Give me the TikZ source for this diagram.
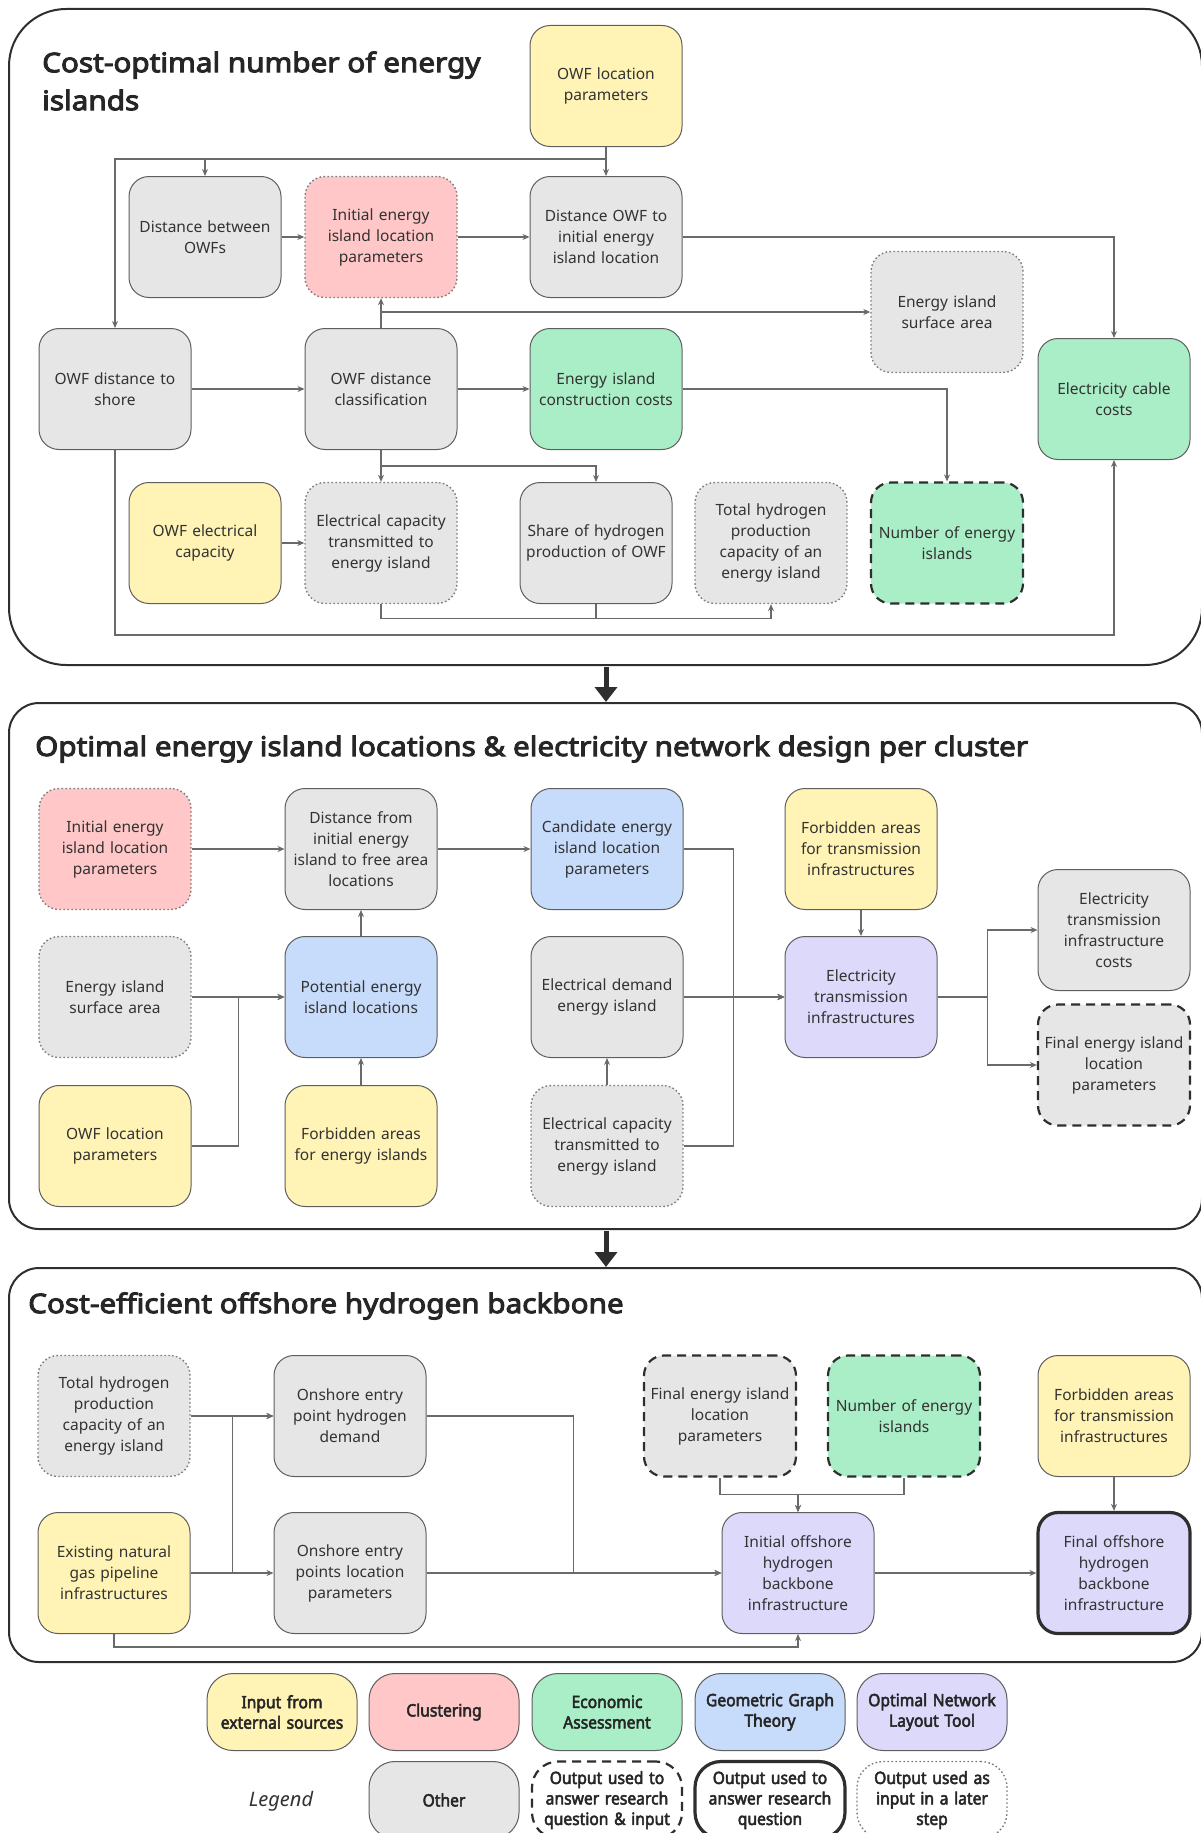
\documentclass[tikz,border=0pt]{standalone}
\usepackage{fontspec}
\setmainfont{Noto Sans}
\newfontfamily\headfam{Noto Sans}[FakeBold=3.6, FakeStretch=1.1]
\newfontfamily\legfam{Noto Sans}[FakeBold=3.0, FakeStretch=0.92]
\usetikzlibrary{arrows.meta}

\definecolor{txt}{HTML}{333333}
\definecolor{edge}{HTML}{5E5E5E}
\definecolor{dotedge}{HTML}{7C7C7C}
\definecolor{darkedge}{HTML}{2E2E2E}
\definecolor{wire}{HTML}{6A6A6A}
\definecolor{cext}{HTML}{FFF3B5}
\definecolor{cclu}{HTML}{FFC7C7}
\definecolor{ceco}{HTML}{A9EEC6}
\definecolor{cgeo}{HTML}{C7DCFB}
\definecolor{conl}{HTML}{DCD9FB}
\definecolor{coth}{HTML}{E6E6E6}

\newcommand{\boxfont}{\fontsize{15.5}{21}\selectfont}
\newcommand{\titlefont}{\headfam\fontsize{27}{38}\selectfont}
\newcommand{\legfont}{\legfam\fontsize{17}{20.5}\selectfont}

\begin{document}
\begin{tikzpicture}[x=1pt, y=-1pt,
  box/.style={rounded corners=20pt, minimum width=152pt, minimum height=121pt,
    text width=148pt, align=center, inner sep=0pt, font=\boxfont, text=txt,
    draw=edge, line width=1pt},
  legbox/.style={rounded corners=26pt, minimum width=150pt, minimum height=77pt,
    text width=146pt, align=center, inner sep=0pt, font=\legfont, text=black!85,
    draw=edge, line width=1pt},
  fillext/.style={fill=cext}, fillclu/.style={fill=cclu}, fillecon/.style={fill=ceco},
  fillgeo/.style={fill=cgeo}, fillonl/.style={fill=conl}, filloth/.style={fill=coth},
  edgelater/.style={draw=dotedge, dash pattern=on 1.6pt off 2.4pt, line width=1.4pt},
  edgerqin/.style={draw=darkedge, dash pattern=on 9pt off 6pt, line width=2.2pt},
  edgerq/.style={draw=darkedge, line width=3.2pt},
  conn/.style={draw=wire, line width=1.1pt, -{Stealth[length=7pt,width=6pt]}},
  wireonly/.style={draw=wire, line width=1.1pt},
  panel/.style={draw=darkedge, line width=2pt},
  stage/.style={draw=darkedge, line width=5pt, -{Triangle[length=15pt,width=22pt]}}]

  \useasboundingbox (0,0) rectangle (1200,1833);

  % Panel 1: cost-optimal number of energy islands
  \draw[panel, rounded corners=57pt] (9,9) rectangle (1202,665);
  \node[anchor=west, align=left, font=\titlefont, text=black!85, inner sep=0pt] (title1) at (42,81)
    {Cost-optimal number of energy\\islands};

  \node[box, fillext] (owfloc) at (606,86) {OWF location\\parameters};
  \node[box, filloth] (distowfs) at (205,237) {Distance between\\OWFs};
  \node[box, fillclu, edgelater] (initisl) at (381,237) {Initial energy\\island location\\parameters};
  \node[box, filloth] (distowfisl) at (606,237) {Distance OWF to\\initial energy\\island location};
  \node[box, filloth] (distshore) at (115,389) {OWF distance to\\shore};
  \node[box, filloth] (distclass) at (381,389) {OWF distance\\classification};
  \node[box, fillecon] (constr) at (606,389) {Energy island\\construction costs};
  \node[box, filloth, edgelater] (surf) at (947,312) {Energy island\\surface area};
  \node[box, fillecon] (cable) at (1114,399) {Electricity cable\\costs};
  \node[box, fillext] (owfcap) at (205,543) {OWF electrical\\capacity};
  \node[box, filloth, edgelater] (capisl) at (381,543) {Electrical capacity\\transmitted to\\energy island};
  \node[box, filloth] (share) at (596,543) {Share of hydrogen\\production of OWF};
  \node[box, filloth, edgelater] (totalh2) at (771,543) {Total hydrogen\\production\\capacity of an\\energy island};
  \node[box, fillecon, edgerqin] (numisl) at (947,543) {Number of energy\\islands};

  \coordinate (j1) at (606,159);
  \coordinate (j2) at (381,312);
  \coordinate (j3) at (381,466);
  \draw[conn] (owfloc.south) -- (distowfisl.north);
  \draw[conn] (j1) -| (distshore.north);
  \draw[conn] (j1) -| (distowfs.north);
  \draw[conn] (distowfs.east) -- (initisl.west);
  \draw[conn] (initisl.east) -- (distowfisl.west);
  \draw[conn] (distowfisl.east) -| (cable.north);
  \draw[conn] (distshore.east) -- (distclass.west);
  \draw[conn] (distclass.east) -- (constr.west);
  \draw[conn] (distclass.north) -- (initisl.south);
  \draw[conn] (j2) -- (surf.west);
  \draw[conn] (constr.east) -| (numisl.north);
  \draw[conn] (distclass.south) -- (capisl.north);
  \draw[conn] (j3) -| (share.north);
  \draw[conn] (owfcap.east) -- (capisl.west);
  \draw[conn] (capisl.south) -- ++(0,14) -| (totalh2.south);
  \draw[wireonly] (share.south) -- ++(0,14);
  \draw[conn] (distshore.south) -- ++(0,185) -| (cable.south);

  \draw[stage] (606,667) -- (606,702);

  % Panel 2: energy island locations and electricity network
  \draw[panel, rounded corners=30pt] (9,703) rectangle (1202,1229);
  \node[anchor=west, font=\titlefont, text=black!85, inner sep=0pt] (title2) at (35,749)
    {Optimal energy island locations \& electricity network design per cluster};

  \node[box, fillclu, edgelater] (initisl2) at (115,849) {Initial energy\\island location\\parameters};
  \node[box, filloth] (distfree) at (361,849) {Distance from\\initial energy\\island to free area\\locations};
  \node[box, fillgeo] (cand) at (607,849) {Candidate energy\\island location\\parameters};
  \node[box, fillext] (forbtr) at (861,849) {Forbidden areas\\for transmission\\infrastructures};
  \node[box, filloth, edgelater] (surf2) at (115,997) {Energy island\\surface area};
  \node[box, fillgeo] (potential) at (361,997) {Potential energy\\island locations};
  \node[box, filloth] (demand) at (607,997) {Electrical demand\\energy island};
  \node[box, fillonl] (elnet) at (861,997) {Electricity\\transmission\\infrastructures};
  \node[box, filloth] (elcost) at (1114,930) {Electricity\\transmission\\infrastructure\\costs};
  \node[box, filloth, edgerqin] (finalisl) at (1114,1065) {Final energy island\\location\\parameters};
  \node[box, fillext] (owfloc2) at (115,1146) {OWF location\\parameters};
  \node[box, fillext] (forbisl) at (361,1146) {Forbidden areas\\for energy islands};
  \node[box, filloth, edgelater] (capisl2) at (607,1146) {Electrical capacity\\transmitted to\\energy island};

  \draw[conn] (initisl2.east) -- (distfree.west);
  \draw[conn] (distfree.east) -- (cand.west);
  \draw[conn] (potential.north) -- (distfree.south);
  \draw[conn] (forbisl.north) -- (potential.south);
  \draw[conn] (surf2.east) -- (potential.west);
  \draw[conn] (owfloc2.east) -- ++(47,0) |- (potential.west);
  \draw[conn] (cand.east) -- ++(50,0) |- (elnet.west);
  \draw[conn] (demand.east) -- (elnet.west);
  \draw[conn] (capisl2.east) -- ++(50,0) |- (elnet.west);
  \draw[conn] (capisl2.north) -- (demand.south);
  \draw[conn] (forbtr.south) -- (elnet.north);
  \draw[conn] (elnet.east) -- ++(50,0) |- (elcost.west);
  \draw[conn] (elnet.east) -- ++(50,0) |- (finalisl.west);

  \draw[stage] (606,1231) -- (606,1267);

  % Panel 3: offshore hydrogen backbone
  \draw[panel, rounded corners=30pt] (9,1268) rectangle (1202,1662);
  \node[anchor=west, font=\titlefont, text=black!85, inner sep=0pt] (title3) at (28,1306)
    {Cost-efficient offshore hydrogen backbone};

  \node[box, filloth, edgelater] (totalh2b) at (114,1416) {Total hydrogen\\production\\capacity of an\\energy island};
  \node[box, filloth] (demandon) at (350,1416) {Onshore entry\\point hydrogen\\demand};
  \node[box, filloth, edgerqin] (finalisl3) at (720,1416) {Final energy island\\location\\parameters};
  \node[box, fillecon, edgerqin] (numisl3) at (904,1416) {Number of energy\\islands};
  \node[box, fillext] (forbtr3) at (1114,1416) {Forbidden areas\\for transmission\\infrastructures};
  \node[box, fillext] (gaspipe) at (114,1573) {Existing natural\\gas pipeline\\infrastructures};
  \node[box, filloth] (entryloc) at (350,1573) {Onshore entry\\points location\\parameters};
  \node[box, fillonl] (inith2) at (798,1573) {Initial offshore\\hydrogen\\backbone\\infrastructure};
  \node[box, fillonl, edgerq] (finalh2) at (1114,1573) {Final offshore\\hydrogen\\backbone\\infrastructure};

  \draw[conn] (totalh2b.east) -- (demandon.west);
  \draw[conn] (gaspipe.east) -- (entryloc.west);
  \draw[conn] (gaspipe.east) -- ++(42,0) |- (demandon.west);
  \draw[conn] (demandon.east) -- ++(147,0) |- (inith2.west);
  \draw[conn] (entryloc.east) -- (inith2.west);
  \draw[conn] (gaspipe.south) -- ++(0,13) -| (inith2.south);
  \draw[conn] (finalisl3.south) -- ++(0,17) -| (inith2.north);
  \draw[conn] (numisl3.south) -- ++(0,17) -| (inith2.north);
  \draw[conn] (inith2.east) -- (finalh2.west);
  \draw[conn] (forbtr3.south) -- (finalh2.north);

  % Legend
  \node[legbox, fillext] (lgext) at (282,1712) {Input from\\external sources};
  \node[legbox, fillclu] (lgclu) at (444,1712) {Clustering};
  \node[legbox, fillecon] (lgeco) at (607,1712) {Economic\\Assessment};
  \node[legbox, fillgeo] (lggeo) at (770,1712) {Geometric Graph\\Theory};
  \node[legbox, fillonl] (lgonl) at (932,1712) {Optimal Network\\Layout Tool};
  \node[font=\fontsize{20}{24}\selectfont\itshape, text=txt] (lgtitle) at (281,1801) {Legend};
  \node[legbox, filloth] (lgoth) at (444,1800) {Other};
  \node[legbox, fill=white, edgerqin] (lgrqin) at (607,1800) {Output used to\\answer research\\question \& input};
  \node[legbox, fill=white, edgerq] (lgrq) at (770,1800) {Output used to\\answer research\\question};
  \node[legbox, fill=white, edgelater] (lglater) at (932,1800) {Output used as\\input in a later\\step};
\end{tikzpicture}
\end{document}
